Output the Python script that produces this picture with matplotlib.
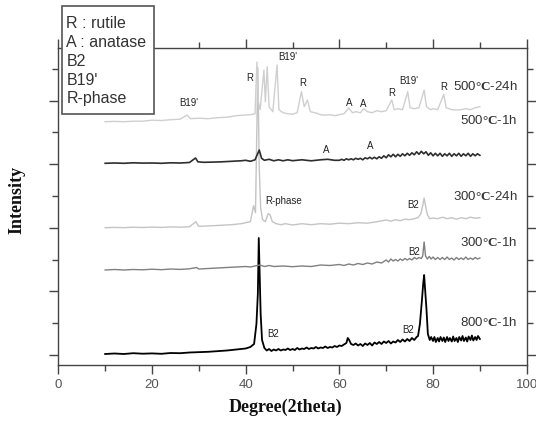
import matplotlib
matplotlib.use('Agg')
import matplotlib.pyplot as plt
from matplotlib.patches import Rectangle
from matplotlib.ticker import MultipleLocator, FixedLocator, NullFormatter
import numpy as np

plt.rcParams['font.family'] = ['Liberation Sans', 'DejaVu Sans']
plt.rcParams['mathtext.fontset'] = 'custom'
plt.rcParams['mathtext.rm'] = 'Liberation Serif'
plt.rcParams['mathtext.bf'] = 'Liberation Serif:bold'
plt.rcParams['mathtext.it'] = 'Liberation Serif:italic'

# ---------------- data (2theta in degrees, intensity in a.u. above each baseline)
x_800_1h = [10, 12, 14, 16, 18, 20, 22, 24, 26, 28, 30, 32, 34, 36, 38, 39, 40, 41, 41.8, 42.3, 42.6, 42.8, 43.0, 43.2, 43.5,
            44, 44.5, 45, 45.5, 46, 46.5, 47, 47.5, 48, 48.5, 49, 49.5, 50, 50.5, 51, 51.5, 52, 52.5, 53, 53.5, 54, 54.5,
            55, 55.5, 56, 56.5, 57, 57.5, 58, 58.5, 59, 59.5, 60, 60.5, 61, 61.5, 61.8, 62.1, 62.5, 63, 63.5, 64, 64.5,
            65, 65.5, 66, 66.5, 67, 67.5, 68, 68.5, 69, 69.5, 70, 70.5, 71, 71.5, 72, 72.5, 73, 73.5, 74, 74.5, 75, 75.5,
            76, 76.5, 76.8, 77.2, 77.6, 77.9, 78.1, 78.3, 78.6, 78.9, 79.3, 79.6, 80, 80.3, 80.6, 81, 81.3, 81.6, 82,
            82.3, 82.6, 83, 83.3, 83.6, 84, 84.3, 84.6, 85, 85.3, 85.6, 86, 86.3, 86.6, 87, 87.3, 87.6, 88, 88.3, 88.6,
            89, 89.3, 89.6, 90]
y_800_1h = [0, 0.5, 0, 0.8, 0.3, 0.6, 0.2, 1, 0.8, 1.5, 1.8, 2.2, 2.8, 3.5, 4.5, 5, 5.5, 7, 10, 30, 60, 116, 80, 40, 14,
            6, 3.5, 5, 3, 4.5, 3.5, 5, 3.5, 4.5, 4, 5.5, 4, 5, 4, 6, 4.5, 5.5, 5, 6.5, 5, 6, 5.5,
            7, 5.5, 6.5, 6, 7.5, 6, 7, 6.5, 8, 7, 8.5, 8, 9.5, 11, 16, 14, 10, 9, 10.5, 8.5, 10,
            8, 10.5, 9, 11, 8.5, 11.5, 10, 12, 10, 12.5, 11, 13, 10.5, 12.5, 11.5, 14, 12, 14.5, 12.5, 15, 13, 16,
            14, 17, 18, 30, 52, 70, 79, 65, 45, 20, 14, 17, 13, 17, 12, 16, 12.5, 17, 13,
            16.5, 12, 17, 13, 16, 12.5, 17.5, 13, 16, 12, 17, 13.5, 18, 13, 16.5, 12.5, 17.5, 14, 18.5, 13.5,
            17, 14, 18, 15]

x_300_1h = [10, 12, 14, 16, 18, 20, 22, 24, 26, 28, 29.5, 30, 32, 34, 36, 38, 40, 41, 42, 43, 44, 45, 46, 48, 50, 52, 54,
            56, 58, 60, 61, 62, 63, 64, 65, 66, 67, 68, 69, 70, 70.5, 71, 71.5, 72, 72.5, 73, 73.5, 74, 74.5, 75, 75.5,
            76, 76.5, 77, 77.5, 77.8, 78.1, 78.4, 78.8, 79.2, 79.6, 80, 80.5, 81, 81.5, 82, 82.5, 83, 83.5, 84, 84.5,
            85, 85.5, 86, 86.5, 87, 87.5, 88, 88.5, 89, 89.5, 90]
y_300_1h = [0, 0.5, 0, 0.5, 0.2, 0.8, 0.3, 1, 0.6, 1.2, 2.5, 1.0, 1.5, 2, 2.5, 3, 3.5, 3, 4, 5, 3.5, 4.5, 3.5, 4, 3.3, 4, 3.5,
            5, 4.5, 5.5, 4.5, 6, 5, 6.5, 5.5, 7, 6, 8, 7, 10, 8, 11, 9, 10.5, 9, 11, 9.5, 11.5, 10, 11.5, 10,
            12.5, 11, 12.5, 11.5, 14, 28, 14, 11, 13.5, 11, 13, 10.5, 12.5, 10.5, 12.5, 10.5, 13, 10.5, 12, 10,
            12.5, 10.5, 12, 10.5, 13, 10.5, 12, 10.5, 12.5, 11, 12]

x_300_24h = [10, 12, 14, 16, 18, 20, 22, 24, 26, 28, 29.4, 29.9, 31, 33, 35, 37, 39, 40, 41, 41.7, 42.1, 42.6, 42.9, 43.2,
             43.6, 44.2, 44.8, 45.2, 45.7, 46.5, 47.5, 48.5, 50, 52, 54, 56, 58, 60, 62, 64, 66, 68, 70, 71, 72, 73, 74,
             75, 76, 76.8, 77.4, 77.8, 78.1, 78.4, 78.8, 79.3, 80, 81, 82, 83, 84, 85, 86, 87, 88, 89, 90]
y_300_24h = [0, 0.3, 0, 0.5, 0.2, 0.6, 0.3, 0.8, 0.5, 1, 6, 1.5, 1.5, 2, 2.5, 3, 4, 5, 6, 22, 15, 160, 60, 20,
             8, 6, 14, 13, 6, 4, 3, 4, 2.7, 4, 3, 4, 3.5, 4.5, 4, 5, 4.5, 6, 7.7, 6.5, 8, 7, 8.5,
             8, 9, 10, 14, 22, 29.7, 22, 13, 9, 9.7, 9, 10.5, 9, 10, 8.5, 10, 9, 10.5, 9.5, 10]

x_500_1h = [10, 12, 14, 16, 18, 20, 22, 24, 26, 28, 29.3, 29.8, 31, 33, 35, 37, 39, 40, 41, 42, 42.9, 43.4, 44, 45, 46, 47,
            48, 49, 50, 52, 54, 56, 57.5, 59, 60, 60.5, 61, 61.5, 62, 62.5, 63, 63.5, 64, 64.5, 65, 65.5, 66, 66.5, 67,
            67.5, 68, 68.5, 69, 69.5, 70, 70.5, 71, 71.5, 72, 72.5, 73, 73.5, 74, 74.5, 75, 75.5, 76, 76.5, 77, 77.5,
            78, 78.5, 79, 79.5, 80, 80.5, 81, 81.5, 82, 82.5, 83, 83.5, 84, 84.5, 85, 85.5, 86, 86.5, 87, 87.5, 88,
            88.5, 89, 89.5, 90]
y_500_1h = [0, 0.3, 0, 0.5, 0.2, 0.3, 0, 0.5, 0.3, 0.8, 5.3, 1.5, 1, 1.2, 1.5, 2, 2.5, 3, 2, 3.5, 13.3, 5, 3, 4, 2.5, 3.5,
            2.5, 3.5, 2.6, 3.5, 2.5, 3.5, 4, 3, 3, 4, 3, 4.5, 3.5, 4.5, 3.5, 5, 4, 5, 3.5, 5.5, 4.5, 6, 4.5,
            6, 4.5, 6.5, 5, 7.5, 5.5, 8.5, 6.5, 9, 6.5, 9, 7, 9.5, 7.5, 10, 8, 10.5, 8.5, 11.5, 9, 12,
            9.5, 11.5, 8, 10.5, 7.5, 10, 7.5, 10, 7, 9.5, 7.5, 10, 7, 9.5, 7.5, 10, 7, 9.5, 7.5, 10, 7,
            9.5, 7.5, 9.5, 8]

x_500_24h = [10, 12, 14, 16, 18, 20, 22, 24, 26, 27.5, 28.2, 30, 32, 34, 36, 38, 40, 41, 42, 42.4, 42.7, 43.1, 43.9, 44.2,
             44.6, 45, 45.8, 46.7, 47.1, 48, 49, 50, 51, 51.9, 52.5, 53.2, 53.8, 55, 56, 57, 58, 59, 60, 61, 62, 62.8,
             63.5, 64.5, 65.2, 66, 67, 68, 69, 70, 71.2, 71.7, 72.5, 73.5, 74.6, 75.1, 76, 77, 78.1, 78.6, 79.5, 80, 81,
             82.3, 82.8, 84, 85, 86, 87, 88, 89, 90]
y_500_24h = [0, 0.3, 0, 0.5, 0.5, 1.5, 1.2, 2, 2.5, 6.7, 3, 3.5, 3, 4, 4.5, 6, 6.7, 7, 8, 59.7, 20, 12, 51.7, 20,
             55, 15, 10, 56.7, 12, 9, 8, 7.5, 9, 30, 15, 21.7, 10, 8.7, 7, 6.5, 7, 6, 7, 8, 13.7, 9,
             10, 9, 13, 10, 9, 11, 10, 11, 21.7, 12, 13, 12, 30, 14, 13, 14, 31.7, 15, 12, 13, 12,
             27.4, 14, 12, 11.7, 12, 13, 12, 14, 15]

sample_labels = ['800$\\mathbf{°C}$-1h', '300$\\mathbf{°C}$-1h', '300$\\mathbf{°C}$-24h',
                 '500$\\mathbf{°C}$-1h', '500$\\mathbf{°C}$-24h']
sample_offsets = [1, 85, 127.3, 191.7, 233.3]
sample_label_y = [33, 112, 159, 235, 269]
sample_colors = ['#000000', '#808080', '#c4c4c4', '#2e2e2e', '#cfcfcf']
sample_lw = [1.3, 1.0, 1.0, 1.2, 1.0]

peak_labels = ['B19\'', 'R', 'B19\'', 'R', 'A', 'A', 'R', 'B19\'', 'R',
               'A', 'A', 'R-phase', 'B2', 'B2', 'B2', 'B2']
peak_x = [27.8, 40.8, 48.9, 52.1, 62.2, 65.2, 71.2, 74.8, 82.3,
          57.3, 66.5, 48.1, 75.7, 76.0, 74.7, 45.8]
peak_y = [252, 277, 298.3, 272.3, 252.3, 250.7, 261.7, 274, 268.3,
          205, 209, 154, 150, 103.3, 25, 21]

legend_lines = ['R : rutile', 'A : anatase', 'B2', 'B19\'', 'R-phase']

xs = [x_800_1h, x_300_1h, x_300_24h, x_500_1h, x_500_24h]
ys = [y_800_1h, y_300_1h, y_300_24h, y_500_1h, y_500_24h]

# ---------------- figure
W, H = 536, 421
fig = plt.figure(figsize=(W / 100, H / 100), dpi=100)
ax = fig.add_axes([58.3 / W, (H - 365) / H, (526.7 - 58.3) / W, (365 - 47.7) / H])

for i in [0, 1, 3, 2, 4]:
    ax.plot(xs[i], np.array(ys[i]) + sample_offsets[i], color=sample_colors[i], lw=sample_lw[i],
            zorder=2 + i * 0.1)
    ax.text(98.0, sample_label_y[i], sample_labels[i], ha='right', va='center', fontsize=9.5,
            color='#333333', zorder=4)

for t, px, py in zip(peak_labels, peak_x, peak_y):
    ax.text(px, py, t, ha='center', va='center', fontsize=7, color='#222222', zorder=4)

ax.set_xlim(0, 100)
ax.set_ylim(-10, 307.3)

ax.xaxis.set_major_locator(MultipleLocator(20))
ax.xaxis.set_minor_locator(MultipleLocator(10))
ax.yaxis.set_major_locator(FixedLocator(np.arange(0, 300, 63.6)))
ax.yaxis.set_minor_locator(FixedLocator(np.arange(31.8, 300, 63.6)))
ax.yaxis.set_major_formatter(NullFormatter())

ax.tick_params(axis='both', which='both', direction='out', color='#444444',
               top=True, right=True, left=True, bottom=True, labeltop=False, labelright=False)
ax.tick_params(axis='both', which='major', length=6.5, width=1.0)
ax.tick_params(axis='both', which='minor', length=4, width=1.0)
ax.tick_params(axis='x', which='major', labelsize=9.5, labelcolor='#555555', pad=3.5)
for s in ax.spines.values():
    s.set_color('#444444')
    s.set_linewidth(1.0)

fig.text(285 / W, (H - 407) / H, 'Degree(2theta)', ha='center', va='center', fontsize=13,
         fontweight='bold', family='Liberation Serif', color='#111111')
fig.text(17 / W, (H - 200) / H, 'Intensity', ha='center', va='center', fontsize=13, rotation=90,
         fontweight='bold', family='Liberation Serif', color='#111111')

# legend box
fig.add_artist(Rectangle((61.7 / W, (H - 114) / H), (154 - 61.7) / W, (114 - 5.7) / H,
                         transform=fig.transFigure, facecolor='white', edgecolor='#555555',
                         lw=1.2, zorder=10))
baselines = [28.3, 47.0, 65.8, 84.6, 103.3]
for t, b in zip(legend_lines, baselines):
    fig.text(66.5 / W, (H - b) / H, t, ha='left', va='baseline', fontsize=11.5, color='#333333', zorder=11)

fig.savefig('out.png', dpi=100)
